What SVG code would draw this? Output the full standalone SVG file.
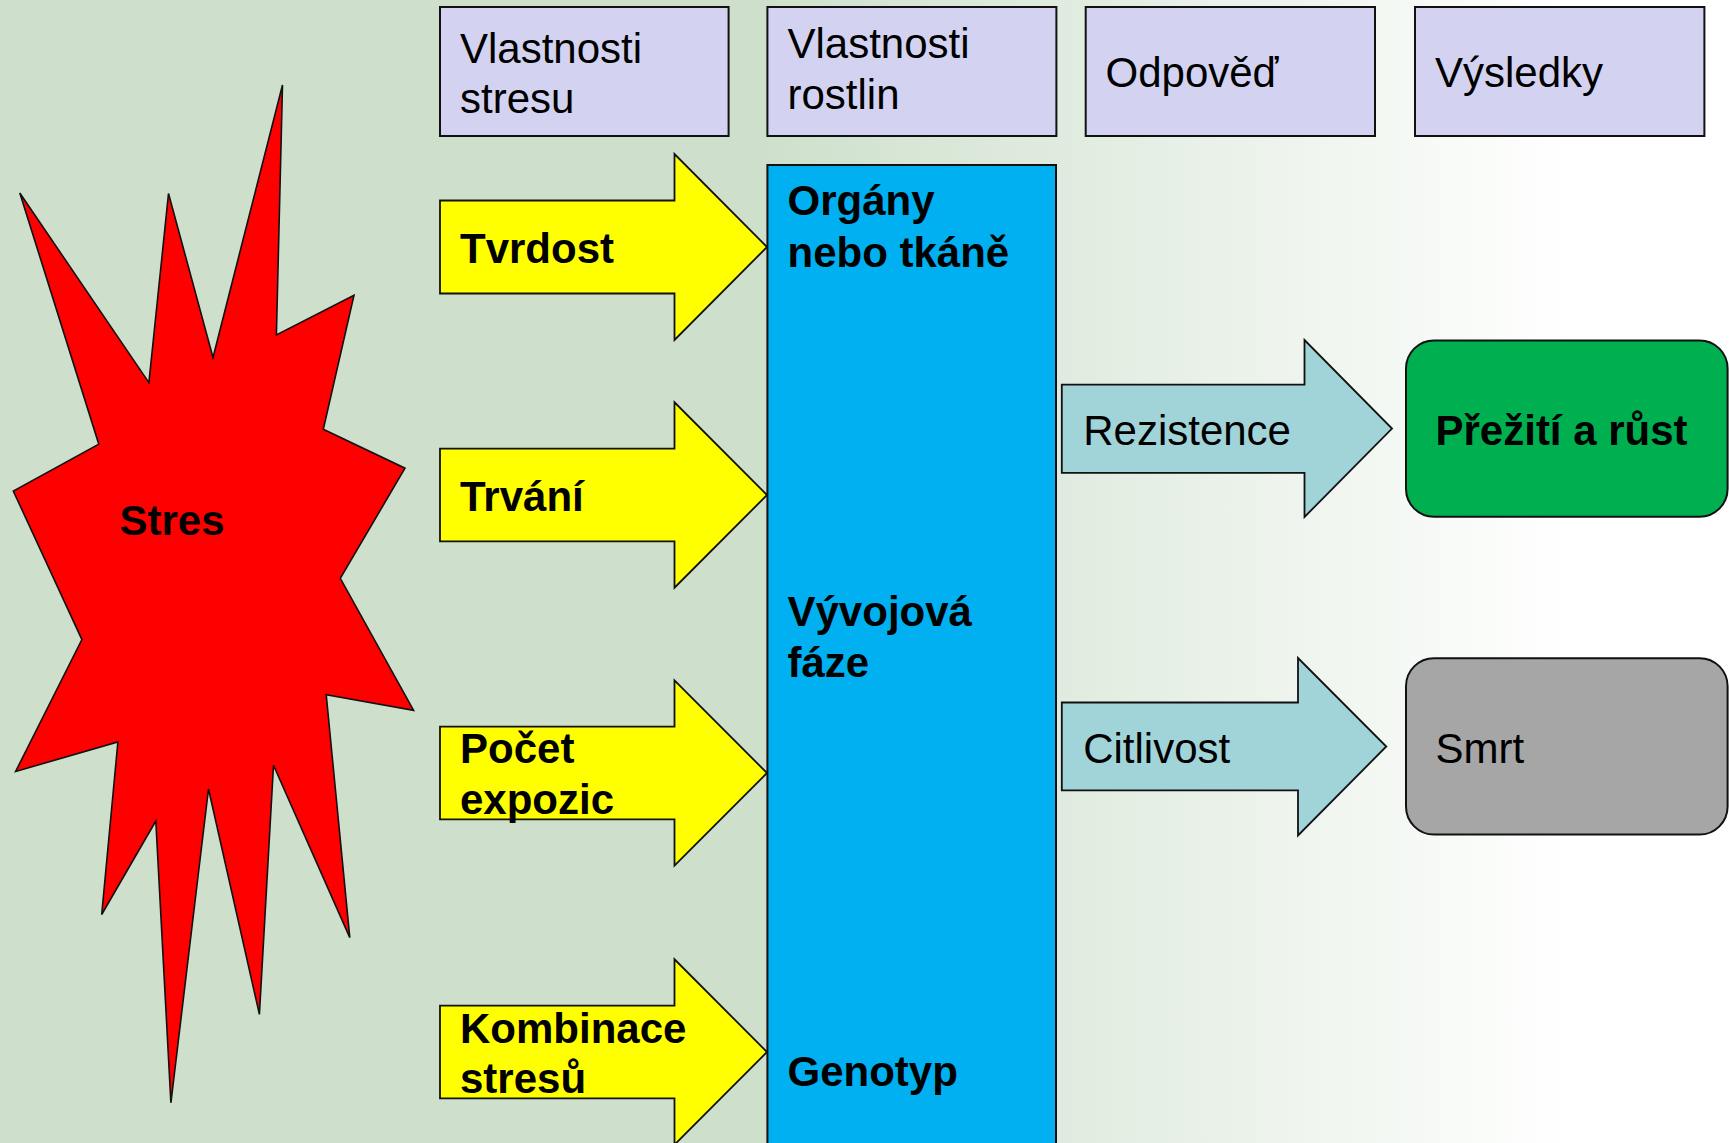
<svg xmlns="http://www.w3.org/2000/svg" width="1729" height="1143" viewBox="0 0 1729 1143">
<defs>
<linearGradient id="bg" gradientUnits="userSpaceOnUse" x1="0" y1="0" x2="1729" y2="0">
<stop offset="0" stop-color="#cee0cc"/>
<stop offset="0.44" stop-color="#cee0cc"/>
<stop offset="0.91" stop-color="#ffffff"/>
<stop offset="1" stop-color="#ffffff"/>
</linearGradient>
<style>
.hdr{fill:#d3d3f1;stroke:#111;stroke-width:2}
.t{font-family:"Liberation Sans",Arial,sans-serif;font-size:42px;fill:#000}
.b{font-family:"Liberation Sans",Arial,sans-serif;font-size:42px;font-weight:bold;fill:#000}
.ya{fill:#ffff00;stroke:#111;stroke-width:1.8}
.ta{fill:#a1d4d8;stroke:#111;stroke-width:1.8}
</style>
</defs>
<rect x="0" y="0" width="1729" height="1143" fill="url(#bg)"/>

<g id="stres">
<polygon points="19.8,193 148.9,382.6 168.5,193.5 213,357.5 282.5,85 276.4,335 354,295.3 323.3,429.2 405,468.2 340.3,578.3 413.6,710.3 326.2,694.6 349.8,937.6 273.5,765.2 259.4,1014.4 208.5,789 170.9,1102.8 155.8,821 101.7,914.5 117.9,741.9 15.6,771.5 81.9,639.6 13.3,491 98.8,444.2" fill="#ff0000" stroke="#111" stroke-width="1.6" stroke-linejoin="miter"/>
<text class="b" x="119.5" y="534.5">Stres</text>
</g>

<g id="hdr-stres">
<rect class="hdr" x="440" y="7" width="288.6" height="129"/>
<text class="t" x="460" y="62.5">Vlastnosti</text>
<text class="t" x="460" y="112.5">stresu</text>
</g>
<g id="hdr-rostlin">
<rect class="hdr" x="767.4" y="7" width="289" height="129"/>
<text class="t" x="787.5" y="57.5">Vlastnosti</text>
<text class="t" x="787.5" y="109.3">rostlin</text>
</g>
<g id="hdr-odpoved">
<rect class="hdr" x="1085.7" y="7" width="289.3" height="129"/>
<text class="t" x="1105.5" y="87.3">Odpověď</text>
</g>
<g id="hdr-vysledky">
<rect class="hdr" x="1415" y="7" width="289.4" height="129"/>
<text class="t" x="1435" y="87.3">Výsledky</text>
</g>

<g id="vlastnosti-rostlin">
<rect x="767.4" y="165" width="288.6" height="1000" fill="#00b0f0" stroke="#111" stroke-width="2"/>
<text class="b" x="787.5" y="215">Orgány</text>
<text class="b" x="787.5" y="267.3">nebo tkáně</text>
<text class="b" x="787.5" y="626">Vývojová</text>
<text class="b" x="787.5" y="677">fáze</text>
<text class="b" x="787.5" y="1086">Genotyp</text>
</g>

<g id="vysledek-preziti">
<rect x="1406" y="340.4" width="321.6" height="176.4" rx="28" ry="28" fill="#00b050" stroke="#111" stroke-width="2"/>
<text class="b" x="1435.5" y="444.6">Přežití a růst</text>
</g>
<g id="vysledek-smrt">
<rect x="1406" y="658.2" width="321.6" height="176.4" rx="28" ry="28" fill="#a6a6a6" stroke="#111" stroke-width="2"/>
<text class="t" x="1435.5" y="762.5">Smrt</text>
</g>

<g id="connectors">
<g id="arrow-tvrdost">
<path class="ya" d="M440,200.5 H674.5 V154 L767,247 L674.5,340 V293.5 H440 Z"/>
<text class="b" x="460" y="262.5">Tvrdost</text>
</g>
<g id="arrow-trvani">
<path class="ya" d="M440,448.6 H674.5 V402.3 L767,495 L674.5,587.7 V541.4 H440 Z"/>
<text class="b" x="460" y="511.4">Trvání</text>
</g>
<g id="arrow-pocet">
<path class="ya" d="M440,726.7 H674.5 V680.4 L767,773 L674.5,865.6 V819.3 H440 Z"/>
<text class="b" x="460" y="762.6">Počet</text>
<text class="b" x="460" y="814">expozic</text>
</g>
<g id="arrow-kombinace">
<path class="ya" d="M440,1005.7 H674.5 V959.3 L767,1052 L674.5,1144.7 V1098.3 H440 Z"/>
<text class="b" x="460" y="1042.5">Kombinace</text>
<text class="b" x="460" y="1093">stresů</text>
</g>
<g id="arrow-rezistence">
<path class="ta" d="M1061.8,384.6 H1304.5 V340 L1392,428.6 L1304.5,517 V472.9 H1061.8 Z"/>
<text class="t" x="1083.2" y="444.6">Rezistence</text>
</g>
<g id="arrow-citlivost">
<path class="ta" d="M1061.8,702.5 H1298 V658 L1386.3,746.5 L1298,835.5 V790.4 H1061.8 Z"/>
<text class="t" x="1083.2" y="762.5">Citlivost</text>
</g>
</g>
</svg>
